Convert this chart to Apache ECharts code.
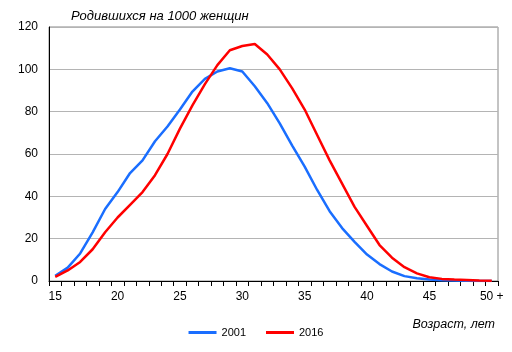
<!DOCTYPE html>
<html>
<head>
<meta charset="utf-8">
<script src="https://cdn.jsdelivr.net/npm/echarts@6/dist/echarts.min.js"></script>
<style>
  html, body { margin: 0; padding: 0; background: #fff; }
  #main { width: 512px; height: 352px; }
</style>
</head>
<body>
<div id="main"></div>
<script>
// возраст
var ages = ['15','16','17','18','19','20','21','22','23','24','25','26','27','28','29','30','31','32','33','34','35','36','37','38','39','40','41','42','43','44','45','46','47','48','49','50 +'];
// 2001
var y2001 = [2.5,6.3,13,23,34,42,51,57,66,73,81,89.5,95.5,99,100.5,99,92,84,74.5,64,54,43,33,25,18.5,12.5,8,4.5,2.3,1.3,0.7,0.4,0.2,0.1,0.05,0.02];
// 2016
var y2016 = [2,5,9,15,23,30,36,42,50,60,72,83,93,102,109,111,112,107,100,91,81,69,57,46,35,26,17,11,6.5,3.6,1.8,1.0,0.7,0.5,0.2,0.1];
var seriesNames = ['2001', '2016'];

var chart = echarts.init(document.getElementById('main'), null, {renderer: 'canvas'});
var font = 'Liberation Sans, Arial, sans-serif';

chart.setOption({
    animation: false,
    textStyle: {fontFamily: font},
    title: {
        text: 'Родившихся на 1000 женщин',
        left: 66, top: 5,
        textStyle: {fontSize: 13, fontStyle: 'italic', fontWeight: 'normal', color: '#000', fontFamily: font}
    },
    legend: {
        data: seriesNames,
        bottom: 9, left: 'center',
        itemWidth: 28, itemHeight: 3, itemGap: 20,
        icon: 'rect',
        textStyle: {fontSize: 11, color: '#000', fontFamily: font}
    },
    grid: {left: 49, right: 14, top: 27, bottom: 71, show: true, borderColor: '#888', borderWidth: 1},
    xAxis: {
        type: 'category',
        data: ages,
        boundaryGap: true,
        name: 'Возраст, лет',
        nameLocation: 'end',
        nameGap: 0,
        nameTextStyle: {fontSize: 12.5, fontStyle: 'italic', color: '#000', align: 'right', verticalAlign: 'top', padding: [37, 3, 0, 0]},
        axisLine: {lineStyle: {color: '#000', width: 1}},
        axisTick: {show: true, interval: 0, length: 5, lineStyle: {color: '#000'}},
        axisLabel: {interval: 4, fontSize: 12, color: '#000', margin: 10},
        splitLine: {show: false}
    },
    yAxis: {
        type: 'value',
        min: 0, max: 120, interval: 20,
        axisLine: {show: true, lineStyle: {color: '#000', width: 1}},
        axisTick: {show: false},
        axisLabel: {fontSize: 12, color: '#000', margin: 11},
        splitLine: {lineStyle: {color: '#b4b4b4', width: 1}}
    },
    series: [
        {name: seriesNames[0], type: 'line', data: y2001, symbol: 'none', color: '#1a6eff',
         lineStyle: {width: 2.5, color: '#1a6eff'}},
        {name: seriesNames[1], type: 'line', data: y2016, symbol: 'none', color: '#ff0000',
         lineStyle: {width: 2.5, color: '#ff0000'}}
    ]
});
</script>
</body>
</html>
